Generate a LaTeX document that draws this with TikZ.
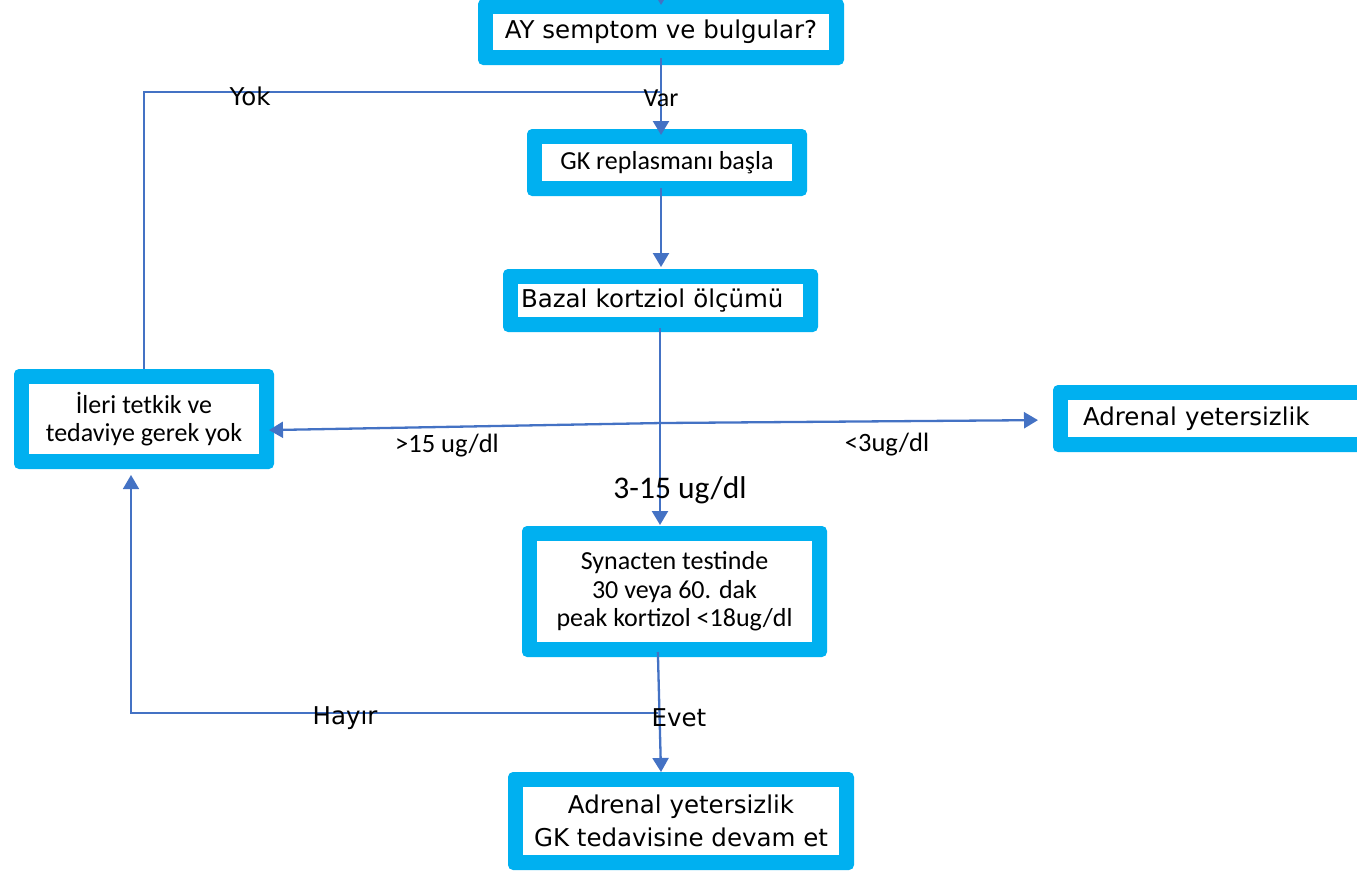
\documentclass[tikz,border=0pt]{standalone}
\usepackage{fontspec}
\setmainfont{Carlito}
\newfontfamily\comic{DejaVu Sans}
\usetikzlibrary{arrows.meta}
\definecolor{boxblue}{HTML}{00B0F0}
\definecolor{linkblue}{HTML}{4472C4}
\begin{document}
\begin{tikzpicture}[x=1pt,y=-1pt,
  box/.style={fill=boxblue, rounded corners=5pt, inner sep=0pt, outer sep=0pt,
    align=center, text=black,
    path picture={\fill[white,sharp corners] ([xshift=15pt,yshift=-15pt]path picture bounding box.north west) rectangle ([xshift=-15pt,yshift=15pt]path picture bounding box.south east);}},
  arr/.style={draw=linkblue, line width=2.3pt, -{Triangle[length=14pt,width=16pt]}},
  thinlink/.style={draw=linkblue, line width=1.6pt},
  cs/.style={font=\comic\fontsize{24.5}{33}\selectfont},
  cb/.style={font=\fontsize{26}{28.5}\selectfont},
  lbl/.style={inner sep=0pt, text=black}]
\useasboundingbox (0,0) rectangle (1357,871);
\clip (0,0) rectangle (1357,871);

% boxes
\node[box, cs, minimum width=366pt, minimum height=66pt] (ay) at (661,32) {AY semptom ve bulgular?};
\node[box, cb, minimum width=280pt, minimum height=67pt] (gk) at (667,162.5) {GK replasmanı başla};
\node[box, cs, minimum width=315pt, minimum height=63pt, text width=285pt, align=left, inner xsep=15pt] (baz) at (660.5,300.5) {\hspace*{3pt}Bazal kortziol ölçümü};
\node[box, cb, minimum width=260pt, minimum height=100pt] (ileri) at (144,419) {İleri tetkik ve\\tedaviye gerek yok};
\node[box, cs, minimum width=367pt, minimum height=67pt, text width=307pt, inner xsep=30pt, align=left] (adr) at (1236.5,418.5) {Adrenal yetersizlik};
\node[box, cb, minimum width=305pt, minimum height=131pt] (syn) at (674.5,591.5) {Synacten testinde\\30 veya 60. dak\\peak kortizol <18ug/dl};
\node[box, cs, minimum width=346pt, minimum height=98pt] (fin) at (681,821) {Adrenal yetersizlik\\GK tedavisine devam et};

% helper coordinates
\coordinate (ax) at (661,0);
\coordinate (top) at (661,-30);
\coordinate (ax2) at (660,0);
\coordinate (j) at (662,423);
\coordinate (s1) at (658,0);
\coordinate (h1) at (658,713);
\coordinate (h2) at (131,713);
\coordinate (y1) at (144,92);

% connectors
\draw[arr, shorten >=-6pt] (top) -- (ay.north -| ax);
\draw[arr, shorten <=-7pt, shorten >=-6pt] (ay.south -| ax) -- (gk.north -| ax);
\draw[arr, shorten <=-8pt, shorten >=2pt] (gk.south -| ax) -- (baz.north -| ax);
\draw[arr, shorten <=-4pt, shorten >=1pt] (baz.south -| ax2) -- (syn.north -| ax2);
\draw[arr, shorten >=-5pt] (j) -- ([yshift=-11pt]ileri.east);
\draw[arr, shorten >=15pt] (j) -- ([yshift=-1.5pt]adr.west);
\draw[arr, shorten <=-5pt] (syn.south -| s1) -- (fin.north -| ax);
\draw[thinlink, -{Triangle[length=14pt,width=16pt]}, shorten >=6pt] (h1) -- (h2) -- (ileri.south -| h2);
\draw[thinlink] (ileri.north -| y1) -- (y1) -- (y1 -| ax);

% labels
\node[lbl, font=\fontsize{26}{30}\selectfont] (var) at (661,98) {Var};
\node[lbl, cs] (yok) at (250,96) {Yok};
\node[lbl, font=\fontsize{26.5}{30}\selectfont] (gt15) at (447,446) {>15 ug/dl};
\node[lbl, font=\fontsize{26.5}{30}\selectfont] (lt3) at (887,445) {<3ug/dl};
\node[lbl, font=\fontsize{31.5}{36}\selectfont] (r315) at (680,490) {3-15 ug/dl};
\node[lbl, cs] (hayir) at (345,718) {Hayır};
\node[lbl, cs] (evet) at (679,718) {Evet};
\end{tikzpicture}
\end{document}
